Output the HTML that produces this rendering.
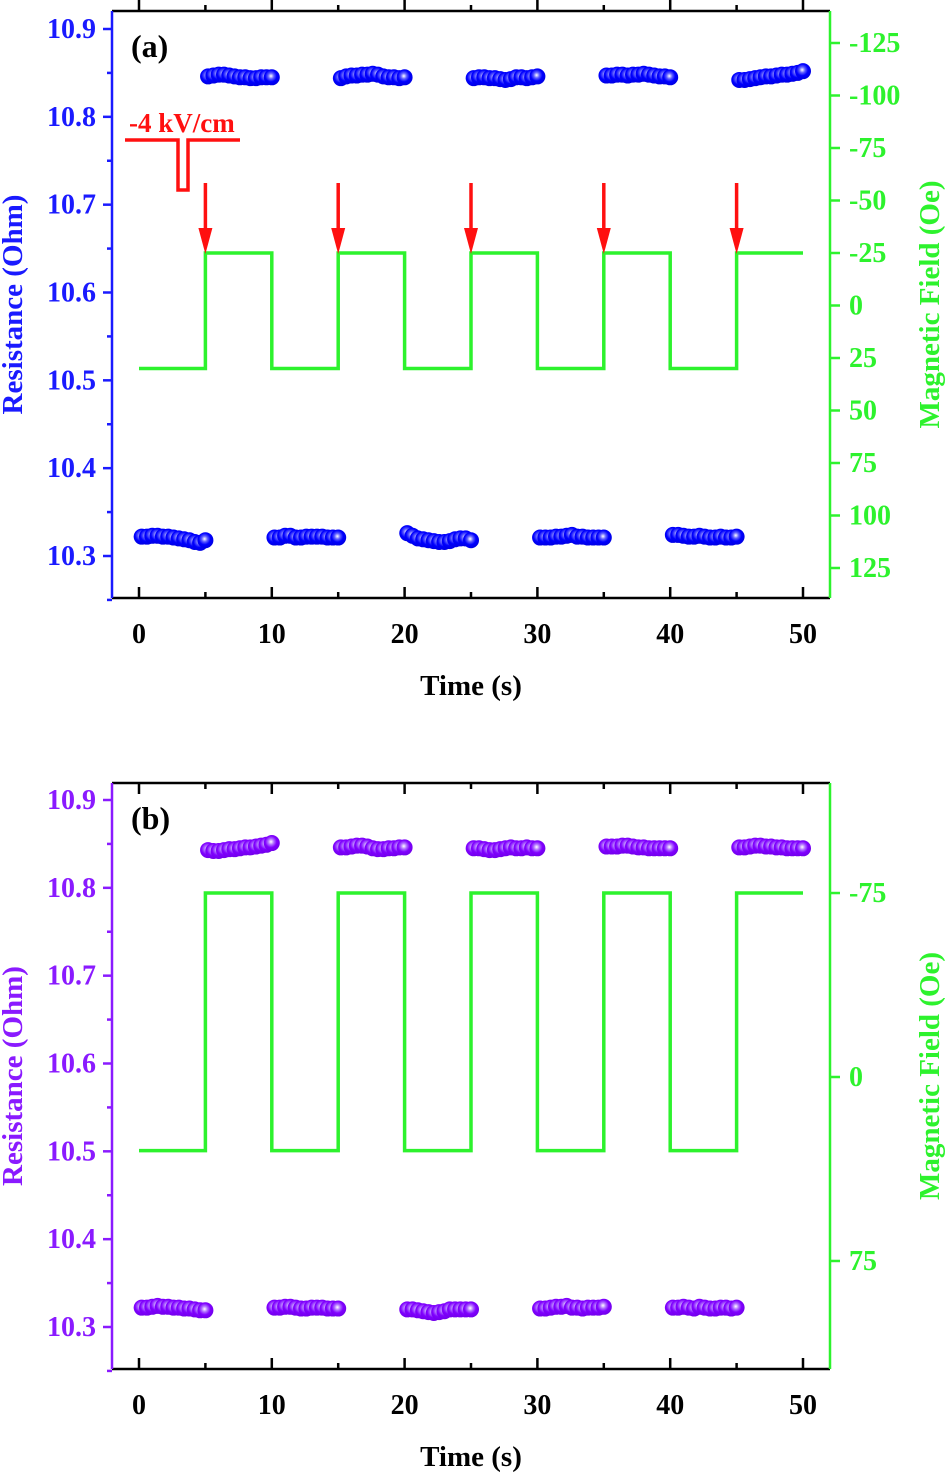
<!DOCTYPE html>
<html><head><meta charset="utf-8">
<style>
html,body{margin:0;padding:0;background:#fff;}
svg{display:block;font-family:"Liberation Serif",serif;font-weight:bold;}
</style></head>
<body>
<svg id="chart" width="945" height="1473" viewBox="0 0 945 1473" xmlns="http://www.w3.org/2000/svg">
<defs>
<radialGradient id="gBlue" cx="0.45" cy="0.42" r="0.6"><stop offset="0" stop-color="#ffffff"/><stop offset="0.3" stop-color="#6060ff"/><stop offset="0.6" stop-color="#0000ff"/><stop offset="1" stop-color="#0000e0"/></radialGradient>
<radialGradient id="gPurp" cx="0.45" cy="0.42" r="0.6"><stop offset="0" stop-color="#ffffff"/><stop offset="0.3" stop-color="#b070ff"/><stop offset="0.6" stop-color="#8000ff"/><stop offset="1" stop-color="#7000e8"/></radialGradient>
</defs>
</svg>
<script>
// ----- data -----
const segStartsLow = [0, 10, 20, 30, 40];
const segStartsHigh = [5, 15, 25, 35, 45];
const pointOffsets = [0.2,0.6,1.0,1.4,1.8,2.2,2.6,3.0,3.4,3.8,4.2,4.6,5.0];
const aLow = [
 [10.322,10.322,10.323,10.323,10.322,10.322,10.321,10.320,10.319,10.318,10.316,10.315,10.318],
 [10.321,10.321,10.323,10.323,10.321,10.321,10.322,10.322,10.322,10.322,10.321,10.321,10.321],
 [10.326,10.323,10.320,10.319,10.318,10.317,10.316,10.316,10.317,10.319,10.320,10.320,10.318],
 [10.321,10.321,10.321,10.322,10.322,10.323,10.324,10.322,10.322,10.321,10.321,10.321,10.321],
 [10.324,10.324,10.323,10.322,10.322,10.323,10.322,10.321,10.321,10.322,10.321,10.321,10.322]
];
const aHigh = [
 [10.846,10.847,10.848,10.848,10.847,10.846,10.845,10.845,10.844,10.844,10.845,10.845,10.845],
 [10.844,10.846,10.847,10.847,10.848,10.848,10.849,10.848,10.846,10.845,10.845,10.844,10.845],
 [10.844,10.845,10.845,10.844,10.844,10.843,10.842,10.843,10.845,10.845,10.844,10.845,10.846],
 [10.847,10.847,10.848,10.848,10.847,10.848,10.848,10.849,10.848,10.847,10.846,10.846,10.845],
 [10.842,10.842,10.843,10.844,10.845,10.846,10.846,10.847,10.848,10.848,10.849,10.850,10.852]
];
const bLow = [
 [10.322,10.322,10.323,10.324,10.323,10.323,10.322,10.322,10.321,10.321,10.320,10.319,10.319],
 [10.322,10.322,10.323,10.323,10.322,10.321,10.321,10.322,10.322,10.322,10.321,10.321,10.321],
 [10.320,10.320,10.319,10.318,10.317,10.316,10.317,10.318,10.320,10.320,10.320,10.320,10.320],
 [10.321,10.321,10.322,10.323,10.323,10.324,10.322,10.322,10.321,10.322,10.322,10.322,10.323],
 [10.322,10.322,10.323,10.322,10.321,10.323,10.322,10.321,10.321,10.322,10.322,10.321,10.322]
];
const bHigh = [
 [10.843,10.842,10.842,10.843,10.844,10.844,10.845,10.846,10.846,10.847,10.848,10.849,10.851],
 [10.846,10.846,10.847,10.848,10.848,10.847,10.845,10.844,10.844,10.845,10.845,10.846,10.846],
 [10.845,10.845,10.844,10.843,10.843,10.844,10.845,10.846,10.845,10.845,10.846,10.845,10.845],
 [10.847,10.847,10.847,10.848,10.848,10.847,10.846,10.846,10.845,10.845,10.845,10.845,10.845],
 [10.846,10.846,10.847,10.848,10.848,10.847,10.847,10.846,10.846,10.845,10.845,10.845,10.845]
];
const fieldTimes = [0,5,5,10,10,15,15,20,20,25,25,30,30,35,35,40,40,45,45,50];
const fieldA = [30,30,-25,-25,30,30,-25,-25,30,30,-25,-25,30,30,-25,-25,30,30,-25,-25];
const fieldB = [30,30,-75,-75,30,30,-75,-75,30,30,-75,-75,30,30,-75,-75,30,30,-75,-75];
const pulseTimes = [5,15,25,35,45];
const xTicks = [0,10,20,30,40,50];
const xMinor = [5,15,25,35,45];
const resTicks = [10.3,10.4,10.5,10.6,10.7,10.8,10.9];
const fieldTicksA = [-125,-100,-75,-50,-25,0,25,50,75,100,125];
const fieldTicksB = [-75,0,75];

// ----- drawing -----
const svg = document.getElementById('chart');
const NS = 'http://www.w3.org/2000/svg';
function mk(tag, attrs, parent){ const e=document.createElementNS(NS,tag); for(const k in attrs) e.setAttribute(k,attrs[k]); (parent||svg).appendChild(e); return e; }
const X0=112, X1=830;
const GREEN='#2df22d';
const xs = t => 139 + t*(803-139)/50;

function panel(p){
  const g = mk('g',{});
  
  
  const ry = v => p.r09 + (10.9 - v)*(p.r03-p.r09)/0.6;
  const fy = v => p.f0 + v*p.fs;
  let d='';
  fieldTimes.forEach((t,i)=>{ d += (i?'L':'M')+xs(t)+' '+fy(p.field[i])+' '; });
  const fl = mk('path',{d:d,fill:'none',stroke:GREEN,'stroke-width':3.5},g);
  
  
  const sg = mk('g',{},g);
  
  
  [[segStartsLow,p.low],[segStartsHigh,p.high]].forEach(([starts,vals])=>{
    starts.forEach((s,si)=>{
      pointOffsets.forEach((o,pi)=>{
        const c = mk('circle',{cx:xs(s+o),cy:ry(vals[si][pi]),r:8,fill:p.grad},sg);
        
        
      });
    });
  });
  mk('line',{x1:X0,y1:p.top,x2:X1,y2:p.top,stroke:'#000','stroke-width':2.5},g);
  mk('line',{x1:X0,y1:p.bot,x2:X1,y2:p.bot,stroke:'#000','stroke-width':2.5},g);
  const la = mk('line',{x1:X0,y1:p.top,x2:X0,y2:p.bot,stroke:p.color,'stroke-width':2.5},g);
   
  const ra = mk('line',{x1:X1,y1:p.top,x2:X1,y2:p.bot,stroke:GREEN,'stroke-width':2.5},g);
   
  xTicks.forEach(t=>{
    mk('line',{x1:xs(t),y1:p.bot,x2:xs(t),y2:p.bot-11,stroke:'#000','stroke-width':2.5},g);
    mk('line',{x1:xs(t),y1:p.top,x2:xs(t),y2:p.top+p.topDir*11,stroke:'#000','stroke-width':2.5},g);
    const tx = mk('text',{x:xs(t),y:p.bot+45,'text-anchor':'middle','font-size':28,fill:'#000'},g);
    tx.textContent=t;
     
  });
  xMinor.forEach(t=>{
    mk('line',{x1:xs(t),y1:p.bot,x2:xs(t),y2:p.bot-6,stroke:'#000','stroke-width':2.5},g);
    mk('line',{x1:xs(t),y1:p.top,x2:xs(t),y2:p.top+p.topDir*6,stroke:'#000','stroke-width':2.5},g);
  });
  resTicks.forEach(v=>{
    mk('line',{x1:X0-9,y1:ry(v),x2:X0,y2:ry(v),stroke:p.color,'stroke-width':2.5},g);
    const ym = ry(v+0.05);
    if (ym > p.top) mk('line',{x1:X0-5,y1:ym,x2:X0,y2:ym,stroke:p.color,'stroke-width':2.5},g);
    const tx = mk('text',{x:96,y:ry(v)+9,'text-anchor':'end','font-size':28,fill:p.color},g);
    tx.textContent=v.toFixed(1);
     
  });
  mk('line',{x1:X0-5,y1:ry(10.25),x2:X0,y2:ry(10.25),stroke:p.color,'stroke-width':2.5},g);
  p.fticks.forEach(v=>{
    mk('line',{x1:X1,y1:fy(v),x2:X1+10,y2:fy(v),stroke:GREEN,'stroke-width':2.5},g);
    const tx = mk('text',{x:849,y:fy(v)+9,'text-anchor':'start','font-size':28,fill:GREEN},g);
    tx.textContent=v;
     
  });
  const xt = mk('text',{x:471,y:p.bot+97,'text-anchor':'middle','font-size':29,fill:'#000'},g);
  xt.textContent='Time (s)';  
  const cy=(p.top+p.bot)/2;
  const lt = mk('text',{x:0,y:0,'text-anchor':'middle','font-size':29,fill:p.color,transform:`translate(22,${cy}) rotate(-90)`},g);
  lt.textContent='Resistance (Ohm)';  
  const rt = mk('text',{x:0,y:0,'text-anchor':'middle','font-size':29,fill:GREEN,transform:`translate(939,${cy}) rotate(-90)`},g);
  rt.textContent='Magnetic Field (Oe)';  
  const pl = mk('text',{x:131,y:p.top+46,'font-size':32,fill:'#000'},g);
  pl.textContent=p.label;  
  return {g,ry,fy};
}

const A = panel({name:'panel-a',top:11,bot:598,r09:29,r03:556,f0:305.5,fs:2.1,field:fieldA,low:aLow,high:aHigh,
  grad:'url(#gBlue)',color:'#1a1aff',fticks:fieldTicksA,topDir:-1,label:'(a)'});
const B = panel({name:'panel-b',top:783,bot:1369,r09:800,r03:1327,f0:1077,fs:2.453,field:fieldB,low:bLow,high:bHigh,
  grad:'url(#gPurp)',color:'#8a1aff',fticks:fieldTicksB,topDir:1,label:'(b)'});

const ann = mk('g',{},A.g);


mk('path',{d:'M125 140 L178 140 L178 190 L188 190 L188 140 L240 140',fill:'none',stroke:'#ff1010','stroke-width':3.5},ann);
const et = mk('text',{x:129,y:132,'font-size':27,fill:'#ff1010'},ann);
et.textContent='-4 kV/cm';


pulseTimes.forEach(t=>{
  const x=xs(t);
  const ar = mk('g',{},ann);
  
  
  mk('line',{x1:x,y1:183,x2:x,y2:235,stroke:'#ff1010','stroke-width':3.5},ar);
  mk('path',{d:`M${x-7} 228 L${x+7} 228 L${x} 254 Z`,fill:'#ff1010'},ar);
});
</script>
</body></html>
